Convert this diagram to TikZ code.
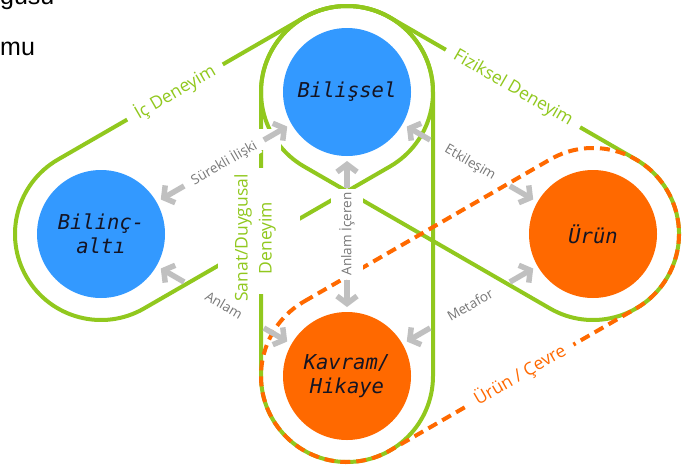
\documentclass[tikz,border=0pt]{standalone}
\usepackage{fontspec}
\setmainfont{Open Sans}
\newfontfamily\circfont{DejaVu Sans Mono Oblique}
\newfontfamily\headfont{Liberation Sans}
\usetikzlibrary{arrows.meta,calc}

\definecolor{loopgreen}{RGB}{145,200,30}
\definecolor{envorange}{RGB}{255,105,0}
\definecolor{mindblue}{RGB}{51,153,255}
\definecolor{arrowgray}{RGB}{192,192,192}
\definecolor{textgray}{RGB}{120,120,120}
\definecolor{inkdark}{RGB}{20,20,35}

\begin{document}
\begin{tikzpicture}[x=1pt,y=1pt,line join=round,
  greenloop/.style={draw=loopgreen, line width=4pt},
  orangeloop/.style={draw=envorange, line width=4pt, dash pattern=on 10pt off 6pt},
  mindnode/.style={circle, fill=#1, minimum size=128pt, inner sep=0pt,
    font=\circfont\fontsize{20.5}{24.5}\selectfont, text=inkdark, align=center},
  linkarrow/.style={draw=arrowgray, line width=5.5pt, -{Straight Barb[length=7.5pt,width=20pt]}},
  linklabel/.style={font=\fontsize{13.5}{15}\selectfont, text=textgray, fill=white, inner sep=2pt},
  looplabel/.style={font=\fontsize{17.5}{21}\selectfont, fill=white, inner ysep=1pt, inner xsep=10pt},
  headtext/.style={font=\headfont\fontsize{25}{29}\selectfont, inner sep=0pt, anchor=base west},
]
\useasboundingbox (0,0) rectangle (682,-466);
\def\R{86}

% heading lines cut by the top edge
\node[headtext] (headone) at (0,-4) {gusu};
\node[headtext] (headtwo) at (0,-55) {mu};

% the four circles
\node[mindnode=mindblue] (bilissel) at (347,-92) {Bilişsel};
\node[mindnode=mindblue] (bilincalti) at (101,-234) {Bilinç-\\altı};
\node[mindnode=envorange] (urun) at (593,-234) {Ürün};
\node[mindnode=envorange] (kavram) at (347,-376) {Kavram/\\Hikaye};

% inner experience: subconscious + cognitive
\draw[greenloop] ($(bilincalti.center)+(120:\R)$) -- ($(bilissel.center)+(120:\R)$)
  arc[start angle=120, end angle=-60, radius=\R]
  -- ($(bilincalti.center)+(-60:\R)$)
  arc[start angle=300, end angle=120, radius=\R] -- cycle;
% physical experience: cognitive + product
\draw[greenloop] ($(bilissel.center)+(60:\R)$) -- ($(urun.center)+(60:\R)$)
  arc[start angle=60, end angle=-120, radius=\R]
  -- ($(bilissel.center)+(-120:\R)$)
  arc[start angle=240, end angle=60, radius=\R] -- cycle;
% art / emotional experience: cognitive + concept
\draw[greenloop] ($(kavram.center)+(180:\R)$) -- ($(bilissel.center)+(180:\R)$)
  arc[start angle=180, end angle=0, radius=\R]
  -- ($(kavram.center)+(0:\R)$)
  arc[start angle=0, end angle=-180, radius=\R] -- cycle;
% product / environment: concept + product
\draw[orangeloop] ($(kavram.center)+(120:\R)$) -- ($(urun.center)+(120:\R)$)
  arc[start angle=120, end angle=-60, radius=\R]
  -- ($(kavram.center)+(-60:\R)$)
  arc[start angle=300, end angle=120, radius=\R] -- cycle;

% openings in the loops
\fill[white] (218,-168) rectangle (300,-294);
\fill[white] (254,-129) rectangle (281,-150);

% loop captions
\node[looplabel, text=loopgreen, rotate=30] (icdeneyim) at (175,-92) {İç Deneyim};
\node[looplabel, text=loopgreen, rotate=-30] (fiziksel) at (513,-88.5) {Fiziksel Deneyim};
\node[looplabel, text=envorange, rotate=30] (cevre) at (520,-375) {Ürün / Çevre};
\node[font=\fontsize{17.5}{24}\selectfont, text=loopgreen, rotate=90, align=center, inner sep=0pt]
  (sanat) at (255,-238) {Sanat/Duygusal\\Deneyim};

% relations between the circles
\foreach \a/\b in {bilissel/bilincalti, bilincalti/kavram, bilissel/kavram,
                   bilissel/urun, kavram/urun}{
  \draw[linkarrow] ($(\a.center)!96pt!(\b.center)$) -- ($(\a.center)!69pt!(\b.center)$);
  \draw[linkarrow] ($(\b.center)!96pt!(\a.center)$) -- ($(\b.center)!69pt!(\a.center)$);
}
\node[linklabel, rotate=30] (lblsurekli) at ($(bilissel.center)!0.5!(bilincalti.center)$) {Sürekli İlişki};
\node[linklabel, rotate=-30] (lblanlam) at ($(bilincalti.center)!0.5!(kavram.center)$) {Anlam};
\node[linklabel, rotate=90, inner xsep=4pt, inner ysep=8pt] (lbliceren) at ($(bilissel.center)!0.5!(kavram.center)$) {Anlam İçeren};
\node[linklabel, rotate=-30] (lbletkilesim) at ($(bilissel.center)!0.5!(urun.center)$) {Etkileşim};
\node[linklabel, rotate=30] (lblmetafor) at ($(kavram.center)!0.5!(urun.center)$) {Metafor};
\end{tikzpicture}
\end{document}
